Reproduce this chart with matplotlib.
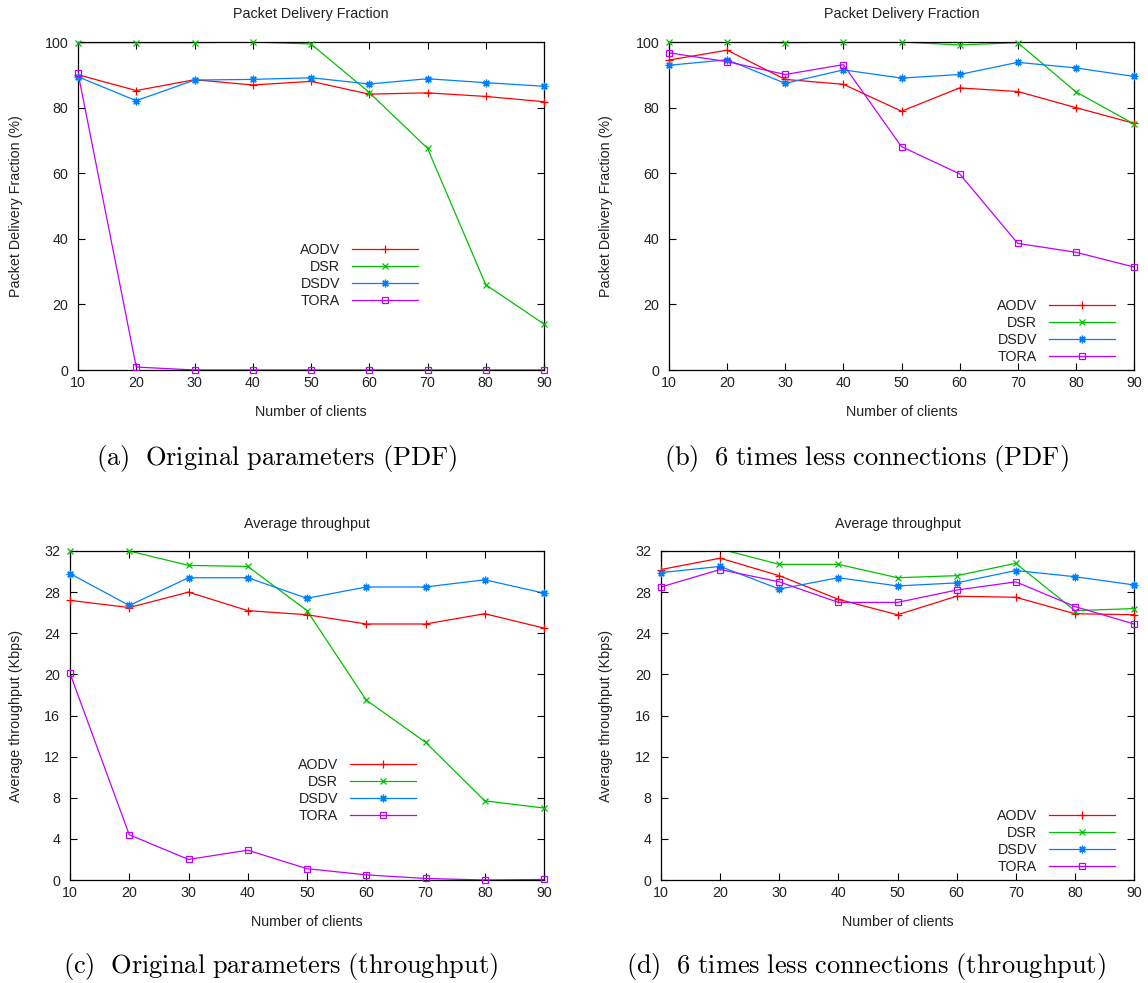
import matplotlib
matplotlib.use("Agg")
import matplotlib.pyplot as plt
from matplotlib.lines import Line2D
import numpy as np

plt.rcParams["font.family"] = ["Liberation Sans", "DejaVu Sans"]
plt.rcParams["mathtext.fontset"] = "cm"

# ---- data -------------------------------------------------------------
clients = [10, 20, 30, 40, 50, 60, 70, 80, 90]
protocols = ["AODV", "DSR", "DSDV", "TORA"]

# Packet delivery fraction (%), original parameters
pdf_orig_aodv = [90.0, 85.2, 88.5, 86.9, 88.0, 84.1, 84.5, 83.4, 81.8]
pdf_orig_dsr = [99.8, 99.8, 99.8, 100.0, 99.4, 84.6, 67.6, 26.0, 14.0]
pdf_orig_dsdv = [89.4, 82.1, 88.4, 88.6, 89.1, 87.2, 88.8, 87.6, 86.5]
pdf_orig_tora = [90.6, 0.9, 0.0, 0.0, 0.0, 0.0, 0.0, 0.0, 0.0]

# Packet delivery fraction (%), 6 times fewer connections
pdf_less_aodv = [94.5, 97.5, 88.6, 87.1, 78.9, 86.0, 84.9, 80.0, 75.2]
pdf_less_dsr = [100.0, 100.0, 99.8, 100.0, 100.0, 99.1, 99.8, 84.8, 75.0]
pdf_less_dsdv = [92.9, 94.6, 87.4, 91.5, 89.0, 90.1, 93.8, 92.1, 89.5]
pdf_less_tora = [96.7, 94.0, 90.1, 93.1, 68.1, 59.8, 38.6, 35.9, 31.4]

# Average throughput (Kbps), original parameters
thr_orig_aodv = [27.2, 26.5, 28.0, 26.2, 25.8, 24.9, 24.9, 25.9, 24.5]
thr_orig_dsr = [32.0, 32.0, 30.6, 30.5, 26.2, 17.5, 13.4, 7.7, 7.0]
thr_orig_dsdv = [29.8, 26.7, 29.4, 29.4, 27.4, 28.5, 28.5, 29.2, 27.9]
thr_orig_tora = [20.1, 4.4, 2.0, 2.9, 1.1, 0.5, 0.15, 0.0, 0.05]

# Average throughput (Kbps), 6 times fewer connections
thr_less_aodv = [30.2, 31.3, 29.6, 27.3, 25.8, 27.6, 27.5, 25.9, 25.8]
thr_less_dsr = [32.8, 32.2, 30.7, 30.7, 29.4, 29.6, 30.8, 26.2, 26.4]
thr_less_dsdv = [29.9, 30.5, 28.3, 29.4, 28.6, 28.9, 30.1, 29.5, 28.7]
thr_less_tora = [28.5, 30.2, 29.0, 27.0, 27.0, 28.2, 29.0, 26.6, 24.9]

styles = {
    "AODV": dict(color="#ff0000", marker="+", ms=6),
    "DSR": dict(color="#00c000", marker="x", ms=4.5),
    "DSDV": dict(color="#0080ff", marker=(8, 2, 0), ms=5.5),
    "TORA": dict(color="#c000ff", marker="s", ms=4.5, mfc="none"),
}

W, H = 1148, 983
fig = plt.figure(figsize=(W / 100, H / 100), dpi=100)

FS = 10.3
TXT = "#222222"


def box(l, r, t, b):
    return [l / W, 1 - b / H, (r - l) / W, (b - t) / H]


def panel(px, series, ymax, ystep, title, ylabel, ylabel_x, legend_anchor, caption, cap_xy):
    l, r, t, b = px
    ax = fig.add_axes(box(l, r, t, b))
    for name, ys in zip(protocols, series):
        st = styles[name]
        ys = np.asarray(ys, dtype=float)
        ax.plot(clients, ys, color=st["color"], lw=0.9, zorder=2)
        shown = np.where(ys <= ymax + 0.01, ys, np.nan)
        ax.plot(clients, shown, ls="none", marker=st["marker"], ms=st["ms"],
                mec=st["color"], mfc=st.get("mfc", st["color"]), mew=0.9,
                clip_on=False, zorder=3)
    ax.set_xlim(10, 90)
    ax.set_ylim(0, ymax)
    ax.set_xticks(clients)
    ax.set_yticks(np.arange(0, ymax + 0.1, ystep))
    ax.tick_params(direction="in", top=True, right=True, length=5, width=0.8,
                   labelsize=FS, labelcolor=TXT)
    ax.tick_params(axis="x", pad=4.5)
    ax.tick_params(axis="y", pad=7)
    for sp in ax.spines.values():
        sp.set_linewidth(0.9)
    hpx = b - t
    ax.set_title(title, fontsize=FS, color=TXT, pad=0,
                 y=1 + (t - (14 if t < 300 else 524)) / hpx, va="center")
    ax.set_xlabel("Number of clients", fontsize=FS, color=TXT)
    ax.xaxis.set_label_coords(0.5, -(412 - 370) / hpx)
    ax.xaxis.label.set_va("center")
    ax.set_ylabel(ylabel, fontsize=FS, color=TXT)
    ax.yaxis.label.set_va("center")
    ax.yaxis.set_label_coords((ylabel_x - l) / (r - l), 0.5)

    handles = [Line2D([], [], color=styles[n]["color"], lw=0.9,
                      marker=styles[n]["marker"], ms=styles[n]["ms"],
                      mec=styles[n]["color"],
                      mfc=styles[n].get("mfc", styles[n]["color"]), mew=0.9)
               for n in protocols]
    leg = ax.legend(handles, protocols, loc="upper right",
                    bbox_to_anchor=legend_anchor, frameon=False,
                    markerfirst=False, fontsize=FS, handlelength=4.6,
                    handletextpad=0.85, labelspacing=0.2, borderpad=0,
                    borderaxespad=0)
    for txt in leg.get_texts():
        txt.set_color(TXT)
    fig.text(cap_xy[0] / W, 1 - cap_xy[1] / H, caption, fontsize=19,
             ha="center", va="center")
    return ax


panel((78, 544, 42, 370), [pdf_orig_aodv, pdf_orig_dsr, pdf_orig_dsdv, pdf_orig_tora],
      100, 20, "Packet Delivery Fraction", "Packet Delivery Fraction (%)", 16,
      (0.73, 0.387), r"$\mathrm{(a)\ \ Original\ parameters\ (PDF)}$", (277, 458))

panel((669, 1134, 42, 370), [pdf_less_aodv, pdf_less_dsr, pdf_less_dsdv, pdf_less_tora],
      100, 20, "Packet Delivery Fraction", "Packet Delivery Fraction (%)", 606,
      (0.959, 0.216), r"$\mathrm{(b)\ \ 6\ times\ less\ connections\ (PDF)}$", (866, 458))

panel((70, 544, 551, 880), [thr_orig_aodv, thr_orig_dsr, thr_orig_dsdv, thr_orig_tora],
      32, 4, "Average throughput", "Average throughput (Kbps)", 16,
      (0.73, 0.371), r"$\mathrm{(c)\ \ Original\ parameters\ (throughput)}$", (280, 967))

panel((661, 1134, 551, 880), [thr_less_aodv, thr_less_dsr, thr_less_dsdv, thr_less_tora],
      32, 4, "Average throughput", "Average throughput (Kbps)", 606,
      (0.96, 0.216), r"$\mathrm{(d)\ \ 6\ times\ less\ connections\ (throughput)}$", (866, 967))

fig.savefig("out.png", dpi=100)
